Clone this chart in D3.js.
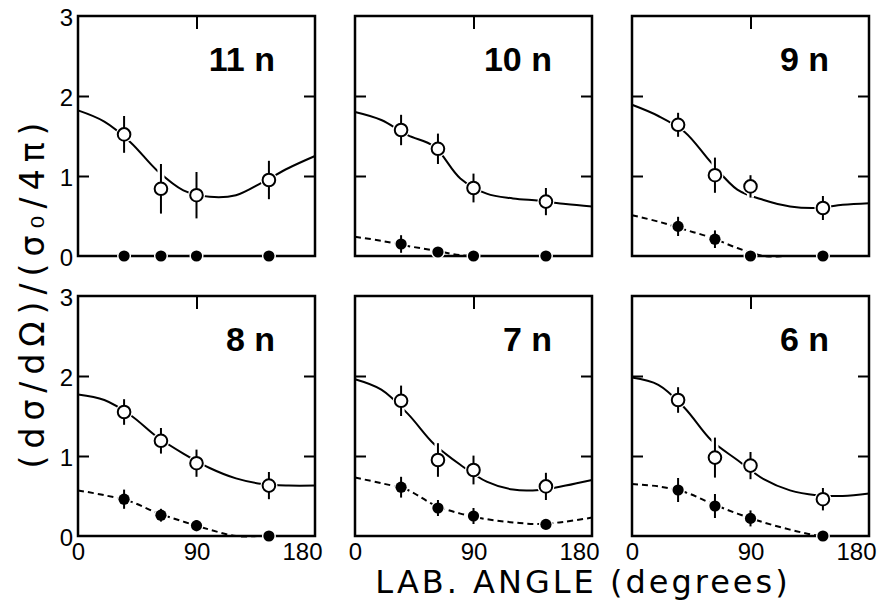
<!DOCTYPE html>
<html>
<head>
<meta charset="utf-8">
<script src="https://cdn.jsdelivr.net/npm/d3@7"></script>
<style>
  html, body { margin: 0; padding: 0; background: #fff; }
  svg { display: block; }
</style>
</head>
<body>
<svg id="chart" width="883" height="609"></svg>
<script>
// Neutron-multiplicity panels, read left-to-right, top-to-bottom
const panelLabels = ["11 n", "10 n", "9 n", "8 n", "7 n", "6 n"];

// Lab angles (degrees) of the measured points
const angles = [35, 63, 90, 145];

// Open circles: values and symmetric errors, one row per panel
const openValues = [
  [1.52, 0.84, 0.76, 0.95],
  [1.575, 1.34, 0.85, 0.68],
  [1.64, 1.01, 0.87, 0.60],
  [1.55, 1.19, 0.91, 0.63],
  [1.69, 0.95, 0.825, 0.62],
  [1.70, 0.98, 0.88, 0.46]
];
const openErrors = [
  [0.23, 0.31, 0.29, 0.24],
  [0.19, 0.19, 0.18, 0.17],
  [0.15, 0.22, 0.14, 0.15],
  [0.16, 0.16, 0.17, 0.17],
  [0.19, 0.21, 0.18, 0.17],
  [0.16, 0.25, 0.17, 0.14]
];

// Filled circles: values and symmetric errors
const filledValues = [
  [0, 0, 0, 0],
  [0.15, 0.05, 0, 0],
  [0.37, 0.21, 0, 0],
  [0.46, 0.26, 0.13, 0],
  [0.61, 0.35, 0.25, 0.145],
  [0.575, 0.375, 0.22, 0]
];
const filledErrors = [
  [0, 0, 0, 0],
  [0.11, 0, 0, 0],
  [0.12, 0.11, 0, 0],
  [0.12, 0.08, 0.07, 0],
  [0.13, 0.10, 0.10, 0],
  [0.15, 0.15, 0.10, 0]
];

// Fitted angular distributions, sampled at these angles
const fitAngles = [0, 20, 40, 60, 80, 100, 120, 140, 160, 180];
const openFit = [
  [1.82, 1.68, 1.42, 1.07, 0.82, 0.74, 0.76, 0.92, 1.10, 1.25],
  [1.80, 1.70, 1.51, 1.37, 0.97, 0.78, 0.72, 0.69, 0.65, 0.62],
  [1.89, 1.75, 1.55, 1.17, 0.83, 0.70, 0.62, 0.60, 0.64, 0.66],
  [1.77, 1.70, 1.51, 1.24, 1.03, 0.85, 0.72, 0.65, 0.63, 0.63],
  [1.96, 1.83, 1.53, 1.15, 0.89, 0.68, 0.58, 0.575, 0.63, 0.70],
  [1.98, 1.89, 1.60, 1.20, 0.95, 0.71, 0.57, 0.51, 0.50, 0.53]
];
const filledFit = [
  [0, 0, 0, 0, 0, 0, 0, 0, 0, 0],
  [0.24, 0.19, 0.125, 0.07, 0.01, 0, 0, 0, 0, 0],
  [0.51, 0.43, 0.33, 0.23, 0.10, 0, 0, 0, 0, 0],
  [0.57, 0.51, 0.43, 0.29, 0.18, 0.08, 0, 0, 0, 0],
  [0.73, 0.66, 0.575, 0.39, 0.28, 0.21, 0.17, 0.15, 0.18, 0.23],
  [0.65, 0.62, 0.55, 0.41, 0.28, 0.17, 0.08, 0.01, 0, 0]
];

const xTickValues = [0, 90, 180];
const yTickValues = [0, 1, 2, 3];

// Layout
const panelW = 237, panelH = 240;
const colX = [78, 355, 632];
const rowY = [16, 296];
const numFont = "'Liberation Sans', Arial, sans-serif";
const titleFont = "'DejaVu Sans', sans-serif";

const x = d3.scaleLinear().domain([0, 180]).range([0, panelW]);
const y = d3.scaleLinear().domain([0, 3]).range([panelH, 0]);

const svg = d3.select("#chart");
svg.append("rect").attr("width", 883).attr("height", 609).attr("fill", "#fff");

const line = d3.line()
  .x(d => x(d[0]))
  .y(d => y(d[1]))
  .curve(d3.curveCatmullRom.alpha(0.5));

function styleTicks(sel) {
  sel.select(".domain").remove();
  sel.selectAll(".tick line").attr("stroke", "#000").attr("stroke-width", 2);
}

panelLabels.forEach((label, i) => {
  const col = i % 3, row = Math.floor(i / 3);
  const g = svg.append("g")
    .attr("transform", `translate(${colX[col]},${rowY[row]})`);

  // inward ticks on left, right and top
  g.append("g")
    .call(d3.axisLeft(y).tickValues([1, 2]).tickSize(-11).tickFormat(""))
    .call(styleTicks);
  g.append("g")
    .attr("transform", `translate(${panelW},0)`)
    .call(d3.axisRight(y).tickValues([1, 2]).tickSize(-11).tickFormat(""))
    .call(styleTicks);
  g.append("g")
    .call(d3.axisTop(x).tickValues([90]).tickSize(-13).tickFormat(""))
    .call(styleTicks);

  // frame
  g.append("rect")
    .attr("width", panelW).attr("height", panelH)
    .attr("fill", "none").attr("stroke", "#000").attr("stroke-width", 2.5);

  // y tick labels on the first column
  if (col === 0) {
    const ya = g.append("g")
      .call(d3.axisLeft(y).tickValues(yTickValues).tickSize(0).tickPadding(5).tickFormat(d3.format("d")));
    ya.select(".domain").remove();
    ya.selectAll("text")
      .attr("font-family", numFont).attr("font-size", 24)
      .attr("fill", "#000").attr("dy", "0.4em");
  }

  // x tick labels on the bottom row
  if (row === 1) {
    const xa = g.append("g")
      .attr("transform", `translate(0,${panelH})`)
      .call(d3.axisBottom(x).tickValues(xTickValues).tickSize(0).tickPadding(7).tickFormat(d3.format("d")));
    xa.select(".domain").remove();
    xa.selectAll("text")
      .attr("font-family", numFont).attr("font-size", 24).attr("fill", "#000");
    xa.selectAll(".tick").filter(d => d === 180).select("text")
      .attr("text-anchor", "end").attr("x", 7);
  }

  // fitted curves
  g.append("path")
    .datum(fitAngles.map((a, k) => [a, openFit[i][k]]))
    .attr("d", line)
    .attr("fill", "none").attr("stroke", "#000").attr("stroke-width", 2);
  g.append("path")
    .datum(fitAngles.map((a, k) => [a, filledFit[i][k]]))
    .attr("d", line)
    .attr("fill", "none").attr("stroke", "#000").attr("stroke-width", 2)
    .attr("stroke-dasharray", "6,4");

  const openPts = angles.map((a, k) => ({ a, v: openValues[i][k], e: openErrors[i][k] }));
  const filledPts = angles.map((a, k) => ({ a, v: filledValues[i][k], e: filledErrors[i][k] }));
  const barred = openPts.concat(filledPts).filter(d => d.e > 0);

  // white knock-outs where error bars and markers cross the curves
  g.selectAll(".bar-halo").data(barred).join("line")
    .attr("x1", d => x(d.a)).attr("x2", d => x(d.a))
    .attr("y1", d => y(d.v + d.e)).attr("y2", d => y(d.v - d.e))
    .attr("stroke", "#fff").attr("stroke-width", 7);
  g.selectAll(".open-halo").data(openPts).join("circle")
    .attr("cx", d => x(d.a)).attr("cy", d => y(d.v)).attr("r", 8.5).attr("fill", "#fff");
  g.selectAll(".filled-halo").data(filledPts).join("circle")
    .attr("cx", d => x(d.a)).attr("cy", d => y(d.v)).attr("r", 7).attr("fill", "#fff");

  // error bars
  g.selectAll(".bar").data(barred).join("line")
    .attr("x1", d => x(d.a)).attr("x2", d => x(d.a))
    .attr("y1", d => y(d.v + d.e)).attr("y2", d => y(d.v - d.e))
    .attr("stroke", "#000").attr("stroke-width", 2);

  // markers
  g.selectAll(".open").data(openPts).join("circle")
    .attr("cx", d => x(d.a)).attr("cy", d => y(d.v)).attr("r", 6.3)
    .attr("fill", "#fff").attr("stroke", "#000").attr("stroke-width", 2);
  g.selectAll(".filled").data(filledPts).join("circle")
    .attr("cx", d => x(d.a)).attr("cy", d => y(d.v)).attr("r", 5.6)
    .attr("fill", "#000");

  // panel label
  g.append("text")
    .attr("x", panelW - 40).attr("y", 55)
    .attr("text-anchor", "end")
    .attr("font-family", numFont).attr("font-weight", "bold").attr("font-size", 34)
    .attr("fill", "#000")
    .text(label);
});

// axis titles
svg.append("text")
  .attr("x", 583).attr("y", 593)
  .attr("text-anchor", "middle")
  .attr("font-family", titleFont).attr("font-size", 32)
  .attr("letter-spacing", 3)
  .attr("fill", "#000")
  .text("LAB. ANGLE (degrees)");

svg.append("text")
  .attr("transform", "translate(44,292) rotate(-90)")
  .attr("text-anchor", "middle")
  .attr("font-family", titleFont).attr("font-size", 33)
  .attr("letter-spacing", 7)
  .attr("fill", "#000")
  .text("(dσ/dΩ)/(σ₀/4π)");
</script>
</body>
</html>
